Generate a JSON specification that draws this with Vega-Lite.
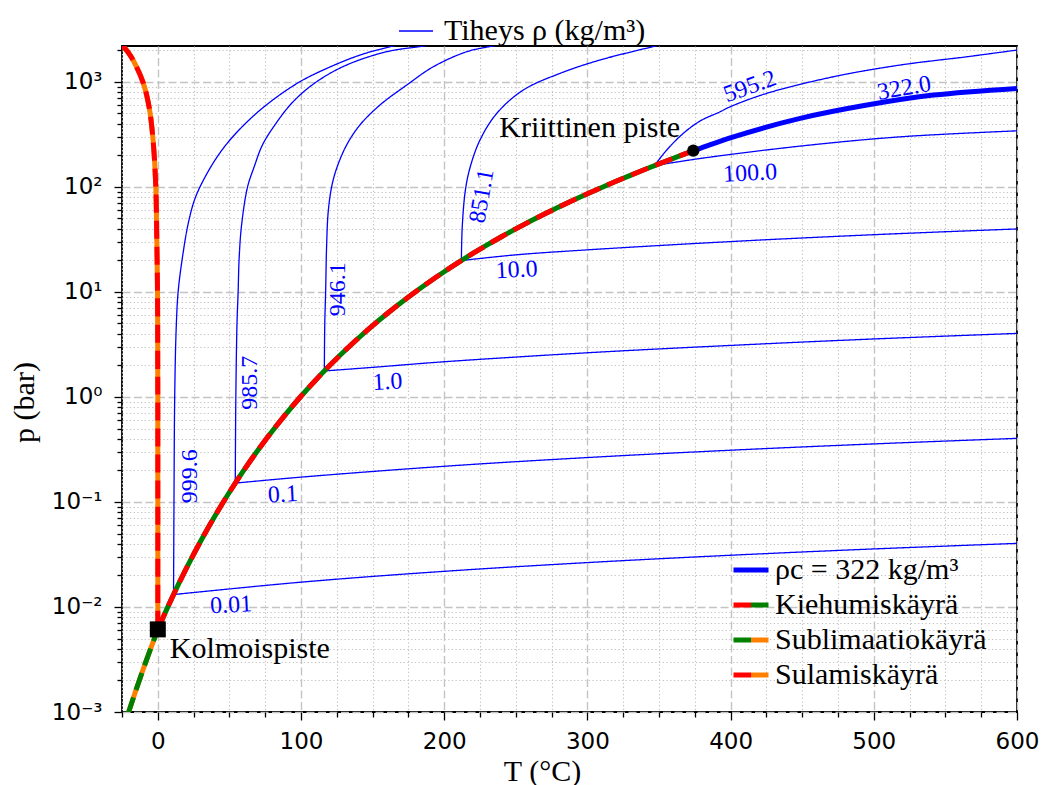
{
  "$schema": "https://vega.github.io/schema/vega-lite/v6.json",
  "width": 895,
  "height": 666,
  "autosize": {"type": "none"},
  "padding": {"left": 122, "top": 46, "right": 26, "bottom": 73},
  "background": "white",
  "config": {
    "view": {"stroke": "black", "strokeWidth": 1.8},
    "axis": {"domain": false, "tickColor": "black", "tickWidth": 1.3, "labelFont": "DejaVu Sans", "labelFontSize": 23, "labelColor": "black", "titleFont": "Liberation Serif", "titleFontSize": 30, "titleFontWeight": "normal", "titleColor": "black", "labelFlush": false, "labelOverlap": false},
    "legend": {"labelFont": "Liberation Serif", "labelFontSize": 30, "labelColor": "black", "padding": 0, "labelLimit": 0}
  },
  "datasets": {
    "iso": [
      {"rho": "999.6", "kind": "Tiheys ρ (kg/m³)", "T": 11, "p": 0.01312},
      {"rho": "999.6", "kind": "Tiheys ρ (kg/m³)", "T": 11.3, "p": 0.1},
      {"rho": "999.6", "kind": "Tiheys ρ (kg/m³)", "T": 11.8, "p": 1.0},
      {"rho": "999.6", "kind": "Tiheys ρ (kg/m³)", "T": 12.8, "p": 4.32},
      {"rho": "999.6", "kind": "Tiheys ρ (kg/m³)", "T": 14.2, "p": 10},
      {"rho": "999.6", "kind": "Tiheys ρ (kg/m³)", "T": 17.1, "p": 20.8},
      {"rho": "999.6", "kind": "Tiheys ρ (kg/m³)", "T": 21.0, "p": 43.2},
      {"rho": "999.6", "kind": "Tiheys ρ (kg/m³)", "T": 25.2, "p": 72},
      {"rho": "999.6", "kind": "Tiheys ρ (kg/m³)", "T": 29.5, "p": 100},
      {"rho": "999.6", "kind": "Tiheys ρ (kg/m³)", "T": 39.2, "p": 173},
      {"rho": "999.6", "kind": "Tiheys ρ (kg/m³)", "T": 49.3, "p": 268},
      {"rho": "999.6", "kind": "Tiheys ρ (kg/m³)", "T": 63.6, "p": 431},
      {"rho": "999.6", "kind": "Tiheys ρ (kg/m³)", "T": 78.7, "p": 646},
      {"rho": "999.6", "kind": "Tiheys ρ (kg/m³)", "T": 99.2, "p": 1000},
      {"rho": "999.6", "kind": "Tiheys ρ (kg/m³)", "T": 118.1, "p": 1342},
      {"rho": "999.6", "kind": "Tiheys ρ (kg/m³)", "T": 141.1, "p": 1794},
      {"rho": "999.6", "kind": "Tiheys ρ (kg/m³)", "T": 162.1, "p": 2154},
      {"rho": "999.6", "kind": "Tiheys ρ (kg/m³)", "T": 176.8, "p": 2389},
      {"rho": "985.7", "kind": "Tiheys ρ (kg/m³)", "T": 54.1, "p": 0.151},
      {"rho": "985.7", "kind": "Tiheys ρ (kg/m³)", "T": 54.5, "p": 1.0},
      {"rho": "985.7", "kind": "Tiheys ρ (kg/m³)", "T": 55.3, "p": 5},
      {"rho": "985.7", "kind": "Tiheys ρ (kg/m³)", "T": 56.1, "p": 10},
      {"rho": "985.7", "kind": "Tiheys ρ (kg/m³)", "T": 56.8, "p": 20.8},
      {"rho": "985.7", "kind": "Tiheys ρ (kg/m³)", "T": 58.5, "p": 43.2},
      {"rho": "985.7", "kind": "Tiheys ρ (kg/m³)", "T": 62.7, "p": 100},
      {"rho": "985.7", "kind": "Tiheys ρ (kg/m³)", "T": 67.3, "p": 155},
      {"rho": "985.7", "kind": "Tiheys ρ (kg/m³)", "T": 73.0, "p": 249},
      {"rho": "985.7", "kind": "Tiheys ρ (kg/m³)", "T": 81.7, "p": 387},
      {"rho": "985.7", "kind": "Tiheys ρ (kg/m³)", "T": 94.5, "p": 646},
      {"rho": "985.7", "kind": "Tiheys ρ (kg/m³)", "T": 110.9, "p": 1000},
      {"rho": "985.7", "kind": "Tiheys ρ (kg/m³)", "T": 131.8, "p": 1443},
      {"rho": "985.7", "kind": "Tiheys ρ (kg/m³)", "T": 159.8, "p": 1931},
      {"rho": "985.7", "kind": "Tiheys ρ (kg/m³)", "T": 181.9, "p": 2154},
      {"rho": "985.7", "kind": "Tiheys ρ (kg/m³)", "T": 195, "p": 2280},
      {"rho": "946.1", "kind": "Tiheys ρ (kg/m³)", "T": 116.3, "p": 1.765},
      {"rho": "946.1", "kind": "Tiheys ρ (kg/m³)", "T": 116.6, "p": 5},
      {"rho": "946.1", "kind": "Tiheys ρ (kg/m³)", "T": 117.2, "p": 10},
      {"rho": "946.1", "kind": "Tiheys ρ (kg/m³)", "T": 117.9, "p": 27.9},
      {"rho": "946.1", "kind": "Tiheys ρ (kg/m³)", "T": 119.0, "p": 57.8},
      {"rho": "946.1", "kind": "Tiheys ρ (kg/m³)", "T": 121.4, "p": 100},
      {"rho": "946.1", "kind": "Tiheys ρ (kg/m³)", "T": 124.9, "p": 150},
      {"rho": "946.1", "kind": "Tiheys ρ (kg/m³)", "T": 131.8, "p": 249},
      {"rho": "946.1", "kind": "Tiheys ρ (kg/m³)", "T": 141.1, "p": 387},
      {"rho": "946.1", "kind": "Tiheys ρ (kg/m³)", "T": 155.1, "p": 600},
      {"rho": "946.1", "kind": "Tiheys ρ (kg/m³)", "T": 173.8, "p": 930},
      {"rho": "946.1", "kind": "Tiheys ρ (kg/m³)", "T": 192.4, "p": 1390},
      {"rho": "946.1", "kind": "Tiheys ρ (kg/m³)", "T": 215.7, "p": 1931},
      {"rho": "946.1", "kind": "Tiheys ρ (kg/m³)", "T": 234, "p": 2190},
      {"rho": "946.1", "kind": "Tiheys ρ (kg/m³)", "T": 245, "p": 2330},
      {"rho": "851.1", "kind": "Tiheys ρ (kg/m³)", "T": 212, "p": 19.85},
      {"rho": "851.1", "kind": "Tiheys ρ (kg/m³)", "T": 212.6, "p": 41.6},
      {"rho": "851.1", "kind": "Tiheys ρ (kg/m³)", "T": 214.8, "p": 93},
      {"rho": "851.1", "kind": "Tiheys ρ (kg/m³)", "T": 218.2, "p": 155},
      {"rho": "851.1", "kind": "Tiheys ρ (kg/m³)", "T": 225, "p": 279},
      {"rho": "851.1", "kind": "Tiheys ρ (kg/m³)", "T": 236.7, "p": 500},
      {"rho": "851.1", "kind": "Tiheys ρ (kg/m³)", "T": 255.2, "p": 834},
      {"rho": "851.1", "kind": "Tiheys ρ (kg/m³)", "T": 280.9, "p": 1202},
      {"rho": "851.1", "kind": "Tiheys ρ (kg/m³)", "T": 308.8, "p": 1611},
      {"rho": "851.1", "kind": "Tiheys ρ (kg/m³)", "T": 350.8, "p": 2240},
      {"rho": "595.2", "kind": "Tiheys ρ (kg/m³)", "T": 346.8, "p": 159},
      {"rho": "595.2", "kind": "Tiheys ρ (kg/m³)", "T": 355.4, "p": 224},
      {"rho": "595.2", "kind": "Tiheys ρ (kg/m³)", "T": 367, "p": 323},
      {"rho": "595.2", "kind": "Tiheys ρ (kg/m³)", "T": 378.7, "p": 423},
      {"rho": "595.2", "kind": "Tiheys ρ (kg/m³)", "T": 392.7, "p": 518},
      {"rho": "595.2", "kind": "Tiheys ρ (kg/m³)", "T": 399.7, "p": 578},
      {"rho": "595.2", "kind": "Tiheys ρ (kg/m³)", "T": 425.3, "p": 776},
      {"rho": "595.2", "kind": "Tiheys ρ (kg/m³)", "T": 471.8, "p": 1116},
      {"rho": "595.2", "kind": "Tiheys ρ (kg/m³)", "T": 518.4, "p": 1443},
      {"rho": "595.2", "kind": "Tiheys ρ (kg/m³)", "T": 565, "p": 1730},
      {"rho": "595.2", "kind": "Tiheys ρ (kg/m³)", "T": 600, "p": 2004},
      {"rho": "100.0", "kind": "Tiheys ρ (kg/m³)", "T": 346.8, "p": 159},
      {"rho": "100.0", "kind": "Tiheys ρ (kg/m³)", "T": 378.7, "p": 186},
      {"rho": "100.0", "kind": "Tiheys ρ (kg/m³)", "T": 448.6, "p": 244},
      {"rho": "100.0", "kind": "Tiheys ρ (kg/m³)", "T": 518.4, "p": 299},
      {"rho": "100.0", "kind": "Tiheys ρ (kg/m³)", "T": 600, "p": 341},
      {"rho": "10.0", "kind": "Tiheys ρ (kg/m³)", "T": 212, "p": 19.85},
      {"rho": "10.0", "kind": "Tiheys ρ (kg/m³)", "T": 250, "p": 22.5},
      {"rho": "10.0", "kind": "Tiheys ρ (kg/m³)", "T": 300, "p": 25.1},
      {"rho": "10.0", "kind": "Tiheys ρ (kg/m³)", "T": 400, "p": 30.1},
      {"rho": "10.0", "kind": "Tiheys ρ (kg/m³)", "T": 500, "p": 35.0},
      {"rho": "10.0", "kind": "Tiheys ρ (kg/m³)", "T": 600, "p": 39.7},
      {"rho": "1.0", "kind": "Tiheys ρ (kg/m³)", "T": 116.3, "p": 1.765},
      {"rho": "1.0", "kind": "Tiheys ρ (kg/m³)", "T": 150, "p": 1.91},
      {"rho": "1.0", "kind": "Tiheys ρ (kg/m³)", "T": 200, "p": 2.16},
      {"rho": "1.0", "kind": "Tiheys ρ (kg/m³)", "T": 300, "p": 2.63},
      {"rho": "1.0", "kind": "Tiheys ρ (kg/m³)", "T": 400, "p": 3.09},
      {"rho": "1.0", "kind": "Tiheys ρ (kg/m³)", "T": 500, "p": 3.56},
      {"rho": "1.0", "kind": "Tiheys ρ (kg/m³)", "T": 600, "p": 4.02},
      {"rho": "0.1", "kind": "Tiheys ρ (kg/m³)", "T": 54.1, "p": 0.151},
      {"rho": "0.1", "kind": "Tiheys ρ (kg/m³)", "T": 100, "p": 0.1722},
      {"rho": "0.1", "kind": "Tiheys ρ (kg/m³)", "T": 200, "p": 0.2184},
      {"rho": "0.1", "kind": "Tiheys ρ (kg/m³)", "T": 300, "p": 0.2645},
      {"rho": "0.1", "kind": "Tiheys ρ (kg/m³)", "T": 400, "p": 0.3106},
      {"rho": "0.1", "kind": "Tiheys ρ (kg/m³)", "T": 500, "p": 0.3567},
      {"rho": "0.1", "kind": "Tiheys ρ (kg/m³)", "T": 600, "p": 0.4029},
      {"rho": "0.01", "kind": "Tiheys ρ (kg/m³)", "T": 11, "p": 0.01312},
      {"rho": "0.01", "kind": "Tiheys ρ (kg/m³)", "T": 100, "p": 0.01722},
      {"rho": "0.01", "kind": "Tiheys ρ (kg/m³)", "T": 200, "p": 0.02184},
      {"rho": "0.01", "kind": "Tiheys ρ (kg/m³)", "T": 300, "p": 0.02645},
      {"rho": "0.01", "kind": "Tiheys ρ (kg/m³)", "T": 400, "p": 0.03107},
      {"rho": "0.01", "kind": "Tiheys ρ (kg/m³)", "T": 500, "p": 0.03568},
      {"rho": "0.01", "kind": "Tiheys ρ (kg/m³)", "T": 600, "p": 0.0403}
    ],
    "curves": [
      {"curve": "Kiehumiskäyrä", "T": 0.01, "p": 0.006117},
      {"curve": "Kiehumiskäyrä", "T": 10, "p": 0.012282},
      {"curve": "Kiehumiskäyrä", "T": 20, "p": 0.023393},
      {"curve": "Kiehumiskäyrä", "T": 30, "p": 0.04247},
      {"curve": "Kiehumiskäyrä", "T": 40, "p": 0.073849},
      {"curve": "Kiehumiskäyrä", "T": 50, "p": 0.12352},
      {"curve": "Kiehumiskäyrä", "T": 60, "p": 0.19946},
      {"curve": "Kiehumiskäyrä", "T": 70, "p": 0.31201},
      {"curve": "Kiehumiskäyrä", "T": 80, "p": 0.47414},
      {"curve": "Kiehumiskäyrä", "T": 90, "p": 0.70182},
      {"curve": "Kiehumiskäyrä", "T": 100, "p": 1.01418},
      {"curve": "Kiehumiskäyrä", "T": 110, "p": 1.4338},
      {"curve": "Kiehumiskäyrä", "T": 120, "p": 1.9867},
      {"curve": "Kiehumiskäyrä", "T": 130, "p": 2.7026},
      {"curve": "Kiehumiskäyrä", "T": 140, "p": 3.615},
      {"curve": "Kiehumiskäyrä", "T": 150, "p": 4.761},
      {"curve": "Kiehumiskäyrä", "T": 160, "p": 6.1814},
      {"curve": "Kiehumiskäyrä", "T": 170, "p": 7.9205},
      {"curve": "Kiehumiskäyrä", "T": 180, "p": 10.026},
      {"curve": "Kiehumiskäyrä", "T": 190, "p": 12.55},
      {"curve": "Kiehumiskäyrä", "T": 200, "p": 15.547},
      {"curve": "Kiehumiskäyrä", "T": 210, "p": 19.074},
      {"curve": "Kiehumiskäyrä", "T": 220, "p": 23.193},
      {"curve": "Kiehumiskäyrä", "T": 230, "p": 27.968},
      {"curve": "Kiehumiskäyrä", "T": 240, "p": 33.467},
      {"curve": "Kiehumiskäyrä", "T": 250, "p": 39.759},
      {"curve": "Kiehumiskäyrä", "T": 260, "p": 46.921},
      {"curve": "Kiehumiskäyrä", "T": 270, "p": 55.028},
      {"curve": "Kiehumiskäyrä", "T": 280, "p": 64.165},
      {"curve": "Kiehumiskäyrä", "T": 290, "p": 74.416},
      {"curve": "Kiehumiskäyrä", "T": 300, "p": 85.877},
      {"curve": "Kiehumiskäyrä", "T": 310, "p": 98.647},
      {"curve": "Kiehumiskäyrä", "T": 320, "p": 112.84},
      {"curve": "Kiehumiskäyrä", "T": 330, "p": 128.58},
      {"curve": "Kiehumiskäyrä", "T": 340, "p": 146.01},
      {"curve": "Kiehumiskäyrä", "T": 350, "p": 165.29},
      {"curve": "Kiehumiskäyrä", "T": 360, "p": 186.66},
      {"curve": "Kiehumiskäyrä", "T": 370, "p": 210.44},
      {"curve": "Kiehumiskäyrä", "T": 373.946, "p": 220.64},
      {"curve": "Sublimaatiokäyrä", "T": -21, "p": 0.000943},
      {"curve": "Sublimaatiokäyrä", "T": -20, "p": 0.001035},
      {"curve": "Sublimaatiokäyrä", "T": -15, "p": 0.001653},
      {"curve": "Sublimaatiokäyrä", "T": -10, "p": 0.0026},
      {"curve": "Sublimaatiokäyrä", "T": -5, "p": 0.004019},
      {"curve": "Sublimaatiokäyrä", "T": 0.01, "p": 0.006117},
      {"curve": "Sulamiskäyrä", "T": -24.5, "p": 2230},
      {"curve": "Sulamiskäyrä", "T": -23.8, "p": 2154},
      {"curve": "Sulamiskäyrä", "T": -20.5, "p": 1888},
      {"curve": "Sulamiskäyrä", "T": -17.3, "p": 1610},
      {"curve": "Sulamiskäyrä", "T": -10.3, "p": 987},
      {"curve": "Sulamiskäyrä", "T": -6.1, "p": 578},
      {"curve": "Sulamiskäyrä", "T": -3.3, "p": 279},
      {"curve": "Sulamiskäyrä", "T": -1.4, "p": 100},
      {"curve": "Sulamiskäyrä", "T": -0.7, "p": 31},
      {"curve": "Sulamiskäyrä", "T": -0.2, "p": 10},
      {"curve": "Sulamiskäyrä", "T": -0.05, "p": 2},
      {"curve": "Sulamiskäyrä", "T": 0, "p": 1},
      {"curve": "Sulamiskäyrä", "T": 0.01, "p": 0.006117},
      {"curve": "ρc = 322 kg/m³", "T": 373.946, "p": 220.64},
      {"curve": "ρc = 322 kg/m³", "T": 378.7, "p": 232},
      {"curve": "ρc = 322 kg/m³", "T": 402, "p": 299},
      {"curve": "ρc = 322 kg/m³", "T": 448.6, "p": 448},
      {"curve": "ρc = 322 kg/m³", "T": 495.2, "p": 600},
      {"curve": "ρc = 322 kg/m³", "T": 541.7, "p": 747},
      {"curve": "ρc = 322 kg/m³", "T": 600, "p": 865}
    ],
    "points": [
      {"name": "Kriittinen piste", "T": 373.946, "p": 220.64},
      {"name": "Kolmoispiste", "T": 0.01, "p": 0.006117}
    ],
    "notes": [
      {"name": "Kriittinen piste", "T": 364.7, "p": 297},
      {"name": "Kolmoispiste", "T": 8.4, "p": 0.003245}
    ],
    "labels": [
      {"text": "999.6", "T": 22.4, "p": 0.176},
      {"text": "985.7", "T": 64.3, "p": 1.365},
      {"text": "946.1", "T": 125.8, "p": 10.6},
      {"text": "851.1", "T": 226.4, "p": 81.5},
      {"text": "595.2", "T": 413.6, "p": 896},
      {"text": "322.0", "T": 521.2, "p": 865},
      {"text": "100.0", "T": 413.6, "p": 134},
      {"text": "10.0", "T": 250.6, "p": 16.1},
      {"text": "1.0", "T": 160.4, "p": 1.38},
      {"text": "0.1", "T": 87.3, "p": 0.117},
      {"text": "0.01", "T": 51.2, "p": 0.01038}
    ]
  },
  "layer": [
    {
      "data": {"name": "points"},
      "mark": {"type": "point", "opacity": 0},
      "encoding": {
        "x": {"field": "T", "type": "quantitative", "scale": {"domain": [-25, 600], "nice": false, "zero": false},
          "axis": {"orient": "bottom", "values": [-25, 25, 50, 75, 125, 150, 175, 225, 250, 275, 325, 350, 375, 425, 450, 475, 525, 550, 575], "labels": false, "tickSize": 5, "grid": true, "gridDash": [1.3, 2.4], "gridColor": "#c4c4c4", "gridWidth": 1.1, "title": null}},
        "y": {"field": "p", "type": "quantitative", "scale": {"type": "log", "domain": [0.001, 2190], "nice": false},
          "axis": {"orient": "left", "values": [0.002, 0.003, 0.004, 0.005, 0.006, 0.007, 0.008, 0.009, 0.02, 0.03, 0.04, 0.05, 0.06, 0.07, 0.08, 0.09, 0.2, 0.3, 0.4, 0.5, 0.6, 0.7, 0.8, 0.9, 2, 3, 4, 5, 6, 7, 8, 9, 20, 30, 40, 50, 60, 70, 80, 90, 200, 300, 400, 500, 600, 700, 800, 900, 2000], "labels": false, "tickSize": 5, "grid": true, "gridDash": [1.3, 2.4], "gridColor": "#c4c4c4", "gridWidth": 1.1, "title": null}}
      }
    },
    {
      "data": {"name": "iso"},
      "mark": {"type": "line", "clip": true, "strokeWidth": 1.3, "color": "#0000ff", "interpolate": "catmull-rom"},
      "encoding": {
        "x": {"field": "T", "type": "quantitative", "scale": {"domain": [-25, 600], "nice": false, "zero": false},
          "axis": {"orient": "bottom", "values": [0, 100, 200, 300, 400, 500, 600], "format": "d", "tickSize": 8, "labelPadding": 10, "grid": true, "gridDash": [8, 3.5], "gridColor": "#c4c4c4", "gridWidth": 1.4, "title": "T (°C)", "titleX": 420, "titleY": 68, "titleBaseline": "alphabetic"}},
        "y": {"field": "p", "type": "quantitative", "scale": {"type": "log", "domain": [0.001, 2190], "nice": false},
          "axis": {"orient": "left", "values": [0.001, 0.01, 0.1, 1, 10, 100, 1000], "labelExpr": "datum.value >= 999 ? '10³' : datum.value >= 99 ? '10²' : datum.value >= 9.9 ? '10¹' : datum.value >= 0.99 ? '10⁰' : datum.value >= 0.099 ? '10⁻¹' : datum.value >= 0.0099 ? '10⁻²' : '10⁻³'", "tickSize": 8, "labelPadding": 12, "grid": true, "gridDash": [8, 3.5], "gridColor": "#c4c4c4", "gridWidth": 1.4, "title": "p (bar)", "titleX": -89, "titleY": 356, "titleBaseline": "alphabetic"}},
        "detail": {"field": "rho", "type": "nominal"},
        "strokeDash": {"field": "kind", "type": "nominal", "scale": {"range": [[1, 0]]},
          "legend": {"orient": "none", "legendX": 276, "legendY": -33, "title": null, "symbolType": "stroke", "symbolSize": 1156, "symbolStrokeColor": "#0000ff", "symbolStrokeWidth": 1.3, "labelOffset": 10}}
      }
    },
    {
      "data": {"name": "curves"},
      "mark": {"type": "line", "clip": true, "strokeWidth": 5, "interpolate": "catmull-rom"},
      "encoding": {
        "x": {"field": "T", "type": "quantitative", "scale": {"domain": [-25, 600], "nice": false, "zero": false}, "axis": null},
        "y": {"field": "p", "type": "quantitative", "scale": {"type": "log", "domain": [0.001, 2190], "nice": false}, "axis": null},
        "stroke": {"field": "curve", "type": "nominal",
          "scale": {"domain": ["Sulamiskäyrä", "Sublimaatiokäyrä", "Kiehumiskäyrä", "ρc = 322 kg/m³"], "range": ["#ff8000", "#ff8000", "#008000", "#0000ff"]},
          "legend": {"orient": "none", "legendX": 609, "legendY": 504, "title": null, "values": ["ρc = 322 kg/m³", "Kiehumiskäyrä", "Sublimaatiokäyrä", "Sulamiskäyrä"], "symbolType": "M0,0H1", "symbolSize": 1225, "symbolStrokeWidth": 5, "labelOffset": 4, "rowPadding": 0, "gridAlign": "all", "labelOpacity": 0}}
      }
    },
    {
      "data": {"name": "curves"},
      "transform": [{"filter": "datum.curve !== 'ρc = 322 kg/m³'"}],
      "mark": {"type": "line", "clip": true, "strokeWidth": 5, "strokeDash": [18, 8], "interpolate": "catmull-rom"},
      "encoding": {
        "x": {"field": "T", "type": "quantitative", "scale": {"domain": [-25, 600], "nice": false, "zero": false}, "axis": null},
        "y": {"field": "p", "type": "quantitative", "scale": {"type": "log", "domain": [0.001, 2190], "nice": false}, "axis": null},
        "color": {"field": "curve", "type": "nominal",
          "scale": {"domain": ["ρc = 322 kg/m³", "Kiehumiskäyrä", "Sublimaatiokäyrä", "Sulamiskäyrä"], "range": ["#0000ff", "#ff0000", "#008000", "#ff0000"]},
          "legend": {"orient": "none", "legendX": 609, "legendY": 504, "title": null, "symbolType": "M-1,0H0", "symbolSize": 1225, "symbolStrokeWidth": 5, "symbolDash": [1, 0], "labelOffset": 4, "rowPadding": 0, "gridAlign": "all"}}
      }
    },
    {
      "data": {"name": "points"},
      "transform": [{"filter": "datum.name === 'Kriittinen piste'"}],
      "mark": {"type": "point", "shape": "circle", "filled": true, "color": "black", "opacity": 1, "size": 150},
      "encoding": {
        "x": {"field": "T", "type": "quantitative", "scale": {"domain": [-25, 600], "nice": false, "zero": false}, "axis": null},
        "y": {"field": "p", "type": "quantitative", "scale": {"type": "log", "domain": [0.001, 2190], "nice": false}, "axis": null}
      }
    },
    {
      "data": {"name": "points"},
      "transform": [{"filter": "datum.name === 'Kolmoispiste'"}],
      "mark": {"type": "point", "shape": "square", "filled": true, "color": "black", "opacity": 1, "size": 256},
      "encoding": {
        "x": {"field": "T", "type": "quantitative", "scale": {"domain": [-25, 600], "nice": false, "zero": false}, "axis": null},
        "y": {"field": "p", "type": "quantitative", "scale": {"type": "log", "domain": [0.001, 2190], "nice": false}, "axis": null}
      }
    },
    {
      "data": {"name": "notes"},
      "transform": [{"filter": "datum.name === 'Kriittinen piste'"}],
      "mark": {"type": "text", "align": "right", "baseline": "alphabetic", "font": "Liberation Serif", "fontSize": 30, "color": "black"},
      "encoding": {
        "x": {"field": "T", "type": "quantitative", "scale": {"domain": [-25, 600], "nice": false, "zero": false}, "axis": null},
        "y": {"field": "p", "type": "quantitative", "scale": {"type": "log", "domain": [0.001, 2190], "nice": false}, "axis": null},
        "text": {"field": "name"}
      }
    },
    {
      "data": {"name": "notes"},
      "transform": [{"filter": "datum.name === 'Kolmoispiste'"}],
      "mark": {"type": "text", "align": "left", "baseline": "alphabetic", "font": "Liberation Serif", "fontSize": 30, "color": "black"},
      "encoding": {
        "x": {"field": "T", "type": "quantitative", "scale": {"domain": [-25, 600], "nice": false, "zero": false}, "axis": null},
        "y": {"field": "p", "type": "quantitative", "scale": {"type": "log", "domain": [0.001, 2190], "nice": false}, "axis": null},
        "text": {"field": "name"}
      }
    },
    {
      "data": {"name": "labels"},
      "transform": [{"filter": "indexof(['999.6','985.7','946.1'], datum.text) >= 0"}],
      "mark": {"type": "text", "angle": 270, "align": "center", "baseline": "middle", "font": "Liberation Serif", "fontSize": 24, "color": "#0000ff"},
      "encoding": {
        "x": {"field": "T", "type": "quantitative", "scale": {"domain": [-25, 600], "nice": false, "zero": false}, "axis": null},
        "y": {"field": "p", "type": "quantitative", "scale": {"type": "log", "domain": [0.001, 2190], "nice": false}, "axis": null},
        "text": {"field": "text"}
      }
    },
    {
      "data": {"name": "labels"},
      "transform": [{"filter": "datum.text === '851.1'"}],
      "mark": {"type": "text", "angle": 280, "align": "center", "baseline": "middle", "font": "Liberation Serif", "fontSize": 24, "color": "#0000ff"},
      "encoding": {
        "x": {"field": "T", "type": "quantitative", "scale": {"domain": [-25, 600], "nice": false, "zero": false}, "axis": null},
        "y": {"field": "p", "type": "quantitative", "scale": {"type": "log", "domain": [0.001, 2190], "nice": false}, "axis": null},
        "text": {"field": "text"}
      }
    },
    {
      "data": {"name": "labels"},
      "transform": [{"filter": "datum.text === '595.2'"}],
      "mark": {"type": "text", "angle": 340, "align": "center", "baseline": "middle", "font": "Liberation Serif", "fontSize": 24, "color": "#0000ff"},
      "encoding": {
        "x": {"field": "T", "type": "quantitative", "scale": {"domain": [-25, 600], "nice": false, "zero": false}, "axis": null},
        "y": {"field": "p", "type": "quantitative", "scale": {"type": "log", "domain": [0.001, 2190], "nice": false}, "axis": null},
        "text": {"field": "text"}
      }
    },
    {
      "data": {"name": "labels"},
      "transform": [{"filter": "datum.text === '322.0'"}],
      "mark": {"type": "text", "angle": 350, "align": "center", "baseline": "middle", "font": "Liberation Serif", "fontSize": 24, "color": "#0000ff"},
      "encoding": {
        "x": {"field": "T", "type": "quantitative", "scale": {"domain": [-25, 600], "nice": false, "zero": false}, "axis": null},
        "y": {"field": "p", "type": "quantitative", "scale": {"type": "log", "domain": [0.001, 2190], "nice": false}, "axis": null},
        "text": {"field": "text"}
      }
    },
    {
      "data": {"name": "labels"},
      "transform": [{"filter": "indexof(['100.0','10.0','1.0','0.1','0.01'], datum.text) >= 0"}],
      "mark": {"type": "text", "angle": 357, "align": "center", "baseline": "middle", "font": "Liberation Serif", "fontSize": 24, "color": "#0000ff"},
      "encoding": {
        "x": {"field": "T", "type": "quantitative", "scale": {"domain": [-25, 600], "nice": false, "zero": false}, "axis": null},
        "y": {"field": "p", "type": "quantitative", "scale": {"type": "log", "domain": [0.001, 2190], "nice": false}, "axis": null},
        "text": {"field": "text"}
      }
    }
  ],
  "resolve": {"axis": {"x": "independent", "y": "independent"}}
}
